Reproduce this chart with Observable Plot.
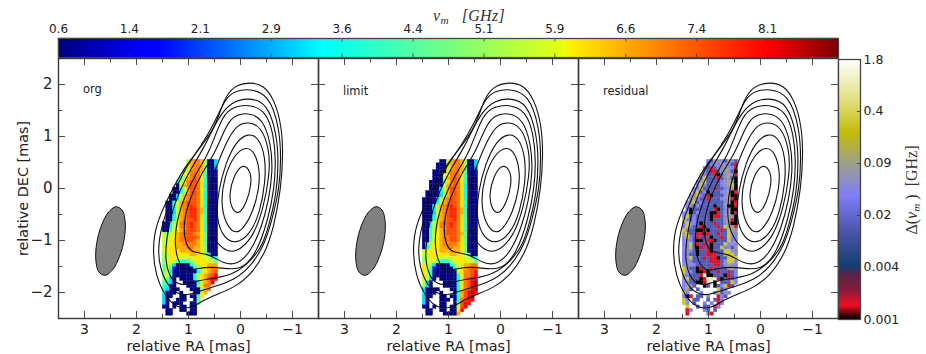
<!DOCTYPE html>
<html><head><meta charset="utf-8">
<style>
html,body{margin:0;padding:0;background:#fff;}
#fig{position:relative;width:926px;height:354px;overflow:hidden;font-family:"DejaVu Sans",sans-serif;}
#fig>svg,#fig>figure{position:absolute;margin:0;}
.ttl{position:absolute;font-family:"Liberation Serif",serif;color:#333;white-space:nowrap;}
.ttl sub{font-size:70%;vertical-align:-3px;line-height:0;}
</style>
<script src="https://cdn.jsdelivr.net/npm/d3@7"></script>
<script src="https://cdn.jsdelivr.net/npm/@observablehq/plot@0.6"></script>
</head><body><div id="fig"></div>
<script>
// ---- data (RA, DEC in mas; frequencies in GHz) ----
const nuTicks=[0.6,1.35,2.1,2.85,3.6,4.35,5.1,5.85,6.6,7.35,8.1,8.85];
const nuTickLabels=["0.6","1.4","2.1","2.9","3.6","4.4","5.1","5.9","6.6","7.4","8.1",""];
const deltaTicks=[0.001,0.00448,0.0201,0.0898,0.402,1.8];
const deltaTickLabels=["0.001","0.004","0.02","0.09","0.4","1.8"];
const raMajor=[3,2,1,0,-1], raMinor=[2.5,1.5,0.5,-0.5];
const decMajor=[2,1,0,-1,-2], decMinor=[1.5,0.5,-0.5,-1.5];
const panelNames=["org","limit","residual"];
const beam=[[2.395,-0.35],[2.542,-0.46],[2.676,-0.717],[2.765,-1.053],[2.782,-1.377],[2.724,-1.604],[2.605,-1.67],[2.458,-1.56],[2.324,-1.303],[2.235,-0.967],[2.218,-0.643],[2.276,-0.416]];

const contour1=[[1.69,-1.15],[1.64,-1.66],[1.43,-2.11],[1.21,-2.30],[0.96,-2.31],[0.70,-2.14],[0.44,-2.03],[0.12,-1.90],[-0.17,-1.69],[-0.46,-1.28],[-0.64,-0.76],[-0.78,0.01],[-0.82,0.65],[-0.79,1.22],[-0.65,1.71],[-0.45,1.99],[-0.17,2.05],[0.14,1.97],[0.32,1.71],[0.47,1.22],[0.73,0.83],[1.08,0.42],[1.40,-0.19],[1.63,-0.70]];
const contour2=[[-0.17,1.92],[-0.55,1.81],[-0.75,1.16],[-0.78,0.58],[-0.75,0.01],[-0.60,-0.63],[-0.46,-1.08],[-0.20,-1.50],[0.12,-1.76],[0.47,-1.88],[0.82,-1.98],[1.08,-2.08],[1.37,-1.94],[1.56,-1.53],[1.59,-1.08],[1.48,-0.57],[1.27,-0.06],[1.05,0.42],[0.76,0.81],[0.50,1.26],[0.28,1.76],[0.09,1.88]];
const contour3=[[-0.17,1.75],[-0.52,1.64],[-0.70,1.03],[-0.73,0.52],[-0.70,-0.06],[-0.55,-0.70],[-0.43,-1.08],[-0.20,-1.40],[0.15,-1.66],[0.47,-1.72],[0.89,-1.78],[1.08,-1.88],[1.34,-1.78],[1.45,-1.40],[1.43,-1.02],[1.34,-0.51],[1.18,-0.06],[0.95,0.39],[0.70,0.78],[0.44,1.35],[0.18,1.67]];
const contour4=[[-0.15,1.62],[-0.49,1.50],[-0.64,1.03],[-0.68,0.52],[-0.65,0.01],[-0.54,-0.57],[-0.30,-1.28],[0.02,-1.60],[0.47,-1.50],[0.82,-1.53],[1.08,-1.62],[1.26,-1.28],[1.26,-0.76],[1.11,-0.22],[0.86,0.29],[0.60,0.68],[0.34,1.44],[0.12,1.57]];
const contour5=[[-0.14,1.46],[-0.43,1.35],[-0.59,0.84],[-0.62,0.33],[-0.54,-0.25],[-0.40,-0.76],[-0.20,-1.21],[0.05,-1.46],[0.31,-1.46],[0.63,-1.24],[0.92,-1.24],[1.05,-1.10],[1.11,-0.70],[0.98,-0.19],[0.73,0.33],[0.50,0.65],[0.28,1.21],[0.12,1.41]];
const contour6=[[-0.145,1.28],[-0.40,1.20],[-0.56,0.73],[-0.56,0.27],[-0.44,-0.39],[-0.24,-0.95],[0.09,-1.25],[0.35,-1.18],[0.59,-0.85],[0.65,-0.45],[0.59,0.07],[0.42,0.54],[0.22,1.00],[0.05,1.23]];
const contour7=[[-0.145,1.07],[-0.355,0.98],[-0.48,0.60],[-0.48,0.13],[-0.375,-0.46],[-0.18,-0.89],[0.09,-1.07],[0.32,-0.96],[0.47,-0.59],[0.43,-0.06],[0.29,0.48],[0.09,0.90]];
const contour8=[[-0.115,0.82],[-0.285,0.68],[-0.37,0.35],[-0.36,0.01],[-0.24,-0.46],[-0.04,-0.80],[0.125,-0.87],[0.295,-0.66],[0.38,-0.26],[0.315,0.21],[0.125,0.65]];
const contour9=[[-0.04,0.49],[-0.20,0.33],[-0.21,0.08],[-0.12,-0.27],[0.04,-0.52],[0.18,-0.38],[0.22,-0.10],[0.13,0.25]];

// each character is one map pixel, west to east, north to south
const nuCodes="0123456789ABCDEFGH";
const nuCodeValues=[0.6,1.1,1.6,2.1,2.6,3.1,3.6,4.1,4.6,5.1,5.6,6.1,6.6,7.05,7.45,7.8,8.6,8.1];
const orgRows=[
".......ACDDC9105",".......ACDDC9005",".......ACDDC8004","......8BDDDC8002","......ABDEDB7001",".....7ACDEDB7000",
"....6ABDEEDB7000","....0ACDEEDB6000","...006ACEEDB7000","...006ACEEDB6000","..005ACDEEDB6000","..006ACDEEDB6000",
".006ACDEEEDB7000",".006ACDEFEDB6000",".006ACDEFFDC7000",".005ACDEFFDC7000",".006ACDEFFDB7000",".006ACDEEFDB7000",
"006ABDEEFEDB7000","006ABDDEFEDB7000","007ABCDEEEDB7000","A8ABCDEEEDCB8000","AAABCDDEEEDB8000","AABBCDDEEDCB8000",
"AABBCCDDDDCB8000","ABBBCCCDDCCB9000","ABBBBCCCCCCB8000","9ABBBBBBCCBBA700","9ABBAAAAABBBAA86","9ABA87679ABBBAA8",
"8A95000069ABBCCC","8A720000069ABCDD","8A6000000069BCDE","9A60000006ABCDEH","9850.00006ABCEHH","8650..00006ACDH.",
"7600...0008BDD..","65000...0009CD..","6000.0...00AC...","500..00.007B....","50..000..08.....","50.000..008.....",
"00.0.00.00......",".00..00.00......",".00....000......"];
const limitRows=[
".....00ACDDC9005","....000ACDDC9005","....000ACDDC8004","...0000BDDDC8002","...000ABDEDB7001","...000ACDEDB7000",
"..00006BDEDB7000","..0000ACDEDB6000","..0006ACEEDB6000",".00006ACEEDB6000",".00005ACEEDB6000","00005ACDEEDB6000",
"00006ACDEEDB7000","0006ACDEFEDB6000","0006ACDEFFDC7000","0005ACDEFFDC7000","0006ACDEFFDB7000","0006ACDEEFDB7000",
"006ABDEEFEDB7000","006ABDDEFEDB7000","007ABCDEEEDB7000","007ABCDEEEDC8000","007ABCDDEEDB8000","008ABCDDEEDB8000",
"07ABBCDDDDCB8000","06ABBCCDDCCB9000","ABBBBCCCCCCB8000","AABBBBBBCCBBA700","9ABBAAAAABBBAA86","9ABA87679ABBBAA8",
"BA95000069ABCCDD","BA72000006ABCDEE","BA60000000ABDDEH","BA600000006BDDEH","AA50.000006ADEHH","A50...00006ADEHG",
"950...00006BDEHG","50000...006BDEHG","6000.0...06CEHGH","500..00.006CEHG.","50...000.06DEHH.","50...00..08EHH..",
"00.0.00.00AEH...",".00..00.00BH....",".00...0000C....."];
const residualCodes="krmnblpgyw";
const residualCodeValues=[0.001,0.0016,0.003,0.0045,0.014,0.035,0.055,0.09,0.3,0.9];
const residualRows=[
".......lbgplbglb",".......blplgplbr","......lbrbplgplr","......lbrrbpgpbk",".....ylbbrkbpgpr",".....lybbbrbpgbk",
"....lgybbbblpgpk","....lylbbbblpgyk","...llybbbrbblpgk","...lyblkbbblpgkr","..pgylbrkbbbpgkk","..lglbbrbbblpgrk",
".plyblbbbbbbpgkr",".lgblbbbbkbbpkkr",".lkbbbbbbrkblgkk","lgkblbbbkkrbpgkr","lyblbbbbkrrbpgpk","ylblbbbbkbbbpgrk",
"lyplbkbbbrbbpgkk","lylbbrkbbbrbypgr","ylbbkkrkbbbrbygp","gybbrrkrbbrbbypl","pylbrbrbkbbrbypl","lplbkkbrrkbbbylp",
"lpybrbrbkbbbylpl","plybkrbrkbbylpbp","lplbkbbrkbbbyypl","lpbbkbbrrrbbyyyp","lpybbbrbrrkbbyyy","lplbbbbbrrrbpyyp",
"plplbbbbbrrbpgpl","ypbbkrbbrbbbbpgl","yplbkkrkbbrbbrbl","glbbbrwkkbbbkrbl","lybbbkrww.rkbrbl","lpbbkkr..kwbbbyl",
"lgpb..kb.kblyrb.","lgb.b.....ybl...","yl...l...lybpl..","lkr.bb.p..rlb...","yl.bb..b.brl....","yp.b..l.l.rl....",
".y..b.bb.rl.....",".rl...lb.b......",".r.....lr......."];

// colour maps as seen on the two colour bars
const jetDomain=[0.6,1.507,1.631,3.405,3.694,5.88,5.96,6.045,7.942,8.107,8.85];
const jetRange=["#00007f","#0000ff","#0000ff","#00ffff","#16ffe1","#e1ff16","#ebff0c","#ffee00","#ff1300","#ff0000","#7f0000"];
const deltaDomain=[0.001,0.0015,0.0023,0.0036,0.0046,0.012,0.035,0.09,0.22,0.55,1.8];
const deltaRange=["#000000","#f01025","#8c1c3c","#5c2448","#153f72","#4a55a8","#7f7ff8","#a0a08c","#c4bc08","#e0e080","#ffffff"];
const panelW=260, cellFrom=[1.496,0.552], cellSize=1/15;

// ---- helpers ----
const font={fontFamily:"DejaVu Sans",background:"transparent",overflow:"visible"};
const ink="#3a3a3a";
const fig=document.getElementById("fig");
const tickText=d=>String(d).replace("-","\u2212");
function place(node,left,top){node.style.position="absolute";node.style.left=left+"px";node.style.top=top+"px";fig.appendChild(node);}
function cellsOf(rows,codes,values){
  const out=[];
  rows.forEach((row,r)=>[...row].forEach((ch,c)=>{
    const i=codes.indexOf(ch);
    if(i<0)return;
    out.push({ra1:cellFrom[0]-c*cellSize,ra2:cellFrom[0]-(c+1)*cellSize,dec1:cellFrom[1]-r*cellSize,dec2:cellFrom[1]-(r+1)*cellSize,v:values[i]});
  }));
  return out;
}
const contourTable=[contour1,contour2,contour3,contour4,contour5,contour6,contour7,contour8,contour9]
  .flatMap((pts,level)=>pts.map(([ra,dec])=>({ra,dec,level})));
const beamTable=beam.map(([ra,dec])=>({ra,dec}));

function panel(index,cells,colorOptions,blur){
  const first=index===0;
  const marginLeft=first?58:2, marginTop=2, marginRight=2, marginBottom=36;
  const tickLen=[0.135,0.08];
  const marks=[
    Plot.rect(cells,{x1:"ra1",x2:"ra2",y1:"dec1",y2:"dec2",fill:"v",stroke:"v",strokeWidth:0.3,clip:true,imageFilter:`blur(${blur}px)`}),
    Plot.line(contourTable,{x:"ra",y:"dec",z:"level",curve:"basis-closed",stroke:"#111",strokeWidth:1.1,imageFilter:"blur(0.2px)"}),
    Plot.line(beamTable,{x:"ra",y:"dec",curve:"catmull-rom-closed",fill:"#808080",stroke:"#111",strokeWidth:1}),
    Plot.text([panelNames[index]],{x:[3.03],y:[index===0?1.9:1.87],text:d=>d,textAnchor:"start",fontSize:11.5,fill:"#222"}),
  ];
  // inward ticks on all four sides
  [[raMajor,tickLen[0]],[raMinor,tickLen[1]]].forEach(([vals,len])=>{
    marks.push(Plot.ruleX(vals,{x:d=>d,y1:-2.5,y2:-2.5+len,stroke:ink,strokeWidth:0.9}));
    marks.push(Plot.ruleX(vals,{x:d=>d,y1:2.5,y2:2.5-len,stroke:ink,strokeWidth:0.9}));
  });
  [[decMajor,tickLen[0]],[decMinor,tickLen[1]]].forEach(([vals,len])=>{
    marks.push(Plot.ruleY(vals,{y:d=>d,x1:3.5,x2:3.5-len,stroke:ink,strokeWidth:0.9}));
    marks.push(Plot.ruleY(vals,{y:d=>d,x1:-1.5,x2:-1.5+len,stroke:ink,strokeWidth:0.9}));
  });
  marks.push(Plot.frame({stroke:ink,strokeWidth:1.4}));
  marks.push(Plot.axisX({ticks:raMajor,tickFormat:tickText,anchor:"bottom",tickSize:0,tickPadding:6,fontSize:14,color:"#222",label:null}));
  marks.push(Plot.text(["relative RA [mas]"],{frameAnchor:"bottom",dy:32,text:d=>d,fontSize:14.4,fill:"#222"}));
  if(first){
    marks.push(Plot.axisY({ticks:decMajor,tickFormat:tickText,anchor:"left",tickSize:0,tickPadding:6,fontSize:15,color:"#222",label:null}));
    marks.push(Plot.text(["relative DEC [mas]"],{frameAnchor:"left",textAnchor:"middle",dx:-35,rotate:-90,text:d=>d,fontSize:14.4,fill:"#222"}));
  }
  return Plot.plot({
    width:marginLeft+panelW+marginRight,height:marginTop+panelW+marginBottom,
    marginLeft,marginRight,marginTop,marginBottom,
    style:font,
    x:{domain:[3.5,-1.5]},
    y:{domain:[-2.5,2.5],...(first?{}:{axis:null})},
    color:colorOptions,
    marks
  });
}
const jetColor={type:"linear",domain:jetDomain,range:jetRange,clamp:true};
const deltaColor={type:"log",domain:deltaDomain,range:deltaRange,clamp:true};

place(panel(0,cellsOf(orgRows,nuCodes,nuCodeValues),jetColor,0.7),0,56);
place(panel(1,cellsOf(limitRows,nuCodes,nuCodeValues),jetColor,0.7),316,56);
place(panel(2,cellsOf(residualRows,residualCodes,residualCodeValues),deltaColor,0.6),576,56);

// top colour bar
const nuSteps=d3.range(0,780).map(i=>{const a=0.6+i*8.25/780,b=0.6+(i+1)*8.25/780;return{a,b,v:(a+b)/2};});
place(Plot.plot({
  width:842,height:36,marginLeft:58,marginRight:4,marginTop:16,marginBottom:1,style:font,
  x:{domain:[0.6,8.85],axis:null},y:{domain:[0,1],axis:null},color:jetColor,
  marks:[
    Plot.rect(nuSteps,{x1:"a",x2:"b",y1:0,y2:1,fill:"v",stroke:"v",strokeWidth:0.3}),
    Plot.ruleX(nuTicks,{x:d=>d,y1:0,y2:0.18,stroke:"#333",strokeWidth:0.8}),
    Plot.ruleX(nuTicks,{x:d=>d,y1:1,y2:0.82,stroke:"#333",strokeWidth:0.8}),
    Plot.frame({stroke:"#444",strokeWidth:1.2}),
    Plot.text(nuTicks,{x:d=>d,y:1,text:(d,i)=>nuTickLabels[i],dy:-9,fontSize:12,fill:"#222"})
  ]
}),0,22);

// right colour bar
const logSteps=d3.range(0,260).map(i=>{const k=Math.log10(1.8/0.001)/260;const a=0.001*10**(i*k),b=0.001*10**((i+1)*k);return{a,b,v:Math.sqrt(a*b)};});
place(Plot.plot({
  width:68,height:264,marginLeft:2,marginRight:44,marginTop:2,marginBottom:2,style:font,
  x:{domain:[0,1],axis:null},y:{type:"log",domain:[0.001,1.8],axis:null},color:deltaColor,
  marks:[
    Plot.rect(logSteps,{x1:0,x2:1,y1:"a",y2:"b",fill:"v",stroke:"v",strokeWidth:0.3}),
    Plot.ruleY(deltaTicks,{y:d=>d,x1:1,x2:0.86,stroke:"#333",strokeWidth:0.8}),
    Plot.frame({stroke:"#444",strokeWidth:1.3}),
    Plot.text(deltaTicks,{x:1,y:d=>d,text:(d,i)=>deltaTickLabels[i],textAnchor:"start",dx:3,fontSize:12.5,fill:"#222"})
  ]
}),836,57);

// titles
const t1=document.createElement("div");t1.className="ttl";
t1.innerHTML="<i>ν<sub>m</sub></i>&nbsp;&nbsp;&nbsp;<i>[GHz]</i>";
t1.style.cssText+="left:433px;top:7px;font-size:16px;letter-spacing:0.3px;";
fig.appendChild(t1);
const t2=document.createElement("div");t2.className="ttl";
t2.innerHTML="Δ(<i>ν<sub>m</sub></i>&nbsp;)&nbsp;&nbsp;[GHz]";
t2.style.cssText+="left:912px;top:190px;font-size:16px;transform:translate(-50%,-50%) rotate(-90deg);";
fig.appendChild(t2);
</script></body></html>
